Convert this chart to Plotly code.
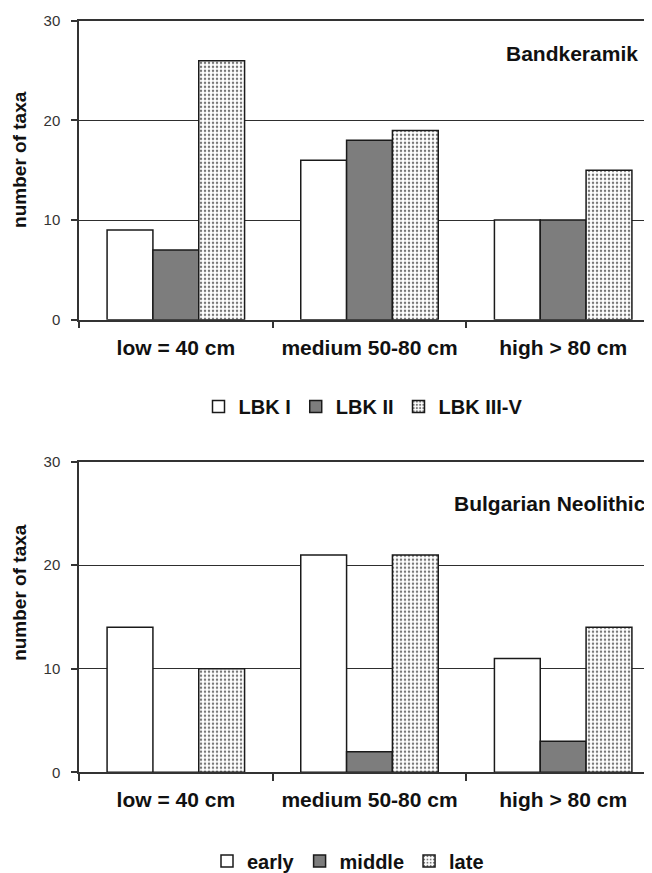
import plotly.graph_objs as go
from plotly.subplots import make_subplots

# categories on the x axis (both panels)
categories = ['low = 40 cm', 'medium 50-80 cm', 'high > 80 cm']

# top panel: Bandkeramik
lbk_names = ['LBK I', 'LBK II', 'LBK III-V']
lbk_1 = [9, 16, 10]
lbk_2 = [7, 18, 10]
lbk_3_5 = [26, 19, 15]

# bottom panel: Bulgarian Neolithic
bg_names = ['early', 'middle', 'late']
bg_early = [14, 21, 11]
bg_middle = [0, 2, 3]
bg_late = [10, 21, 14]

y_ticks = [0, 10, 20, 30]

FONT = 'Liberation Sans, Arial, sans-serif'
W, H = 652, 873
LEFT = 71


def px_x(x):
    # pixel -> paper x
    return (x - LEFT) / (W - LEFT)


def px_y(y):
    # pixel -> paper y
    return 1 - y / H


def bar_style(kind):
    line = dict(color='#1a1a1a', width=1.5)
    if kind == 0:
        return dict(color='white', line=line)
    if kind == 1:
        return dict(color='#7d7d7d', line=line)
    return dict(
        color='white',
        line=line,
        pattern=dict(
            shape='.',
            fillmode='replace',
            fgcolor='#777777',
            bgcolor='white',
            size=4,
            solidity=0.3
        )
    )


fig = make_subplots(rows=2, cols=1)

for i, (name, vals) in enumerate(zip(lbk_names, [lbk_1, lbk_2, lbk_3_5])):
    fig.add_trace(
        go.Bar(x=categories, y=vals, name=name, marker=bar_style(i),
               legend='legend'),
        row=1, col=1
    )

for i, (name, vals) in enumerate(zip(bg_names, [bg_early, bg_middle, bg_late])):
    fig.add_trace(
        go.Bar(x=categories, y=vals, name=name, marker=bar_style(i),
               legend='legend2'),
        row=2, col=1
    )

xaxis_style = dict(
    showline=True,
    # mirrored line gives the top rule at 30 (grid line there is dropped)
    mirror=True,
    linecolor='#333333',
    linewidth=1.5,
    ticks='outside',
    tickson='boundaries',
    ticklen=7,
    tickwidth=1.5,
    tickcolor='#333333',
    showgrid=False,
    tickfont=dict(family=FONT, size=21, color='#111111', weight='bold'),
    ticklabelstandoff=8,
    automargin=False,
    domain=[0, 1]
)
yaxis_style = dict(
    range=[0, 30],
    tickvals=y_ticks,
    showline=True,
    linecolor='#333333',
    linewidth=1.5,
    ticks='outside',
    ticklen=6,
    tickwidth=1.5,
    tickcolor='#333333',
    showgrid=True,
    gridcolor='#2e2e2e',
    gridwidth=1.3,
    zeroline=False,
    tickfont=dict(family=FONT, size=15, color='#333333'),
    ticklabelstandoff=8,
    automargin=False
)

fig.update_xaxes(**xaxis_style)
fig.update_yaxes(**yaxis_style)
fig.update_layout(
    yaxis=dict(domain=[px_y(316), px_y(13)]),
    yaxis2=dict(domain=[px_y(775), px_y(460)]),
)

legend_style = dict(
    orientation='h',
    xanchor='center',
    yanchor='middle',
    font=dict(family=FONT, size=20, color='#111111', weight='bold'),
    bgcolor='rgba(0,0,0,0)',
    itemclick=False,
    traceorder='normal'
)

fig.update_layout(
    width=W,
    height=H,
    margin=dict(l=LEFT, r=0, t=0, b=0),
    paper_bgcolor='white',
    plot_bgcolor='white',
    barmode='group',
    bargap=0.29,
    bargroupgap=0,
    showlegend=True,
    legend=dict(x=px_x(355), y=px_y(404), **legend_style),
    legend2=dict(x=px_x(340), y=px_y(865), **legend_style),
    font=dict(family=FONT)
)

# axis titles and panel labels
annotations = [
    dict(text='number of taxa', x=px_x(12), y=px_y(154), textangle=-90),
    dict(text='number of taxa', x=px_x(12), y=px_y(593), textangle=-90),
]
for a in annotations:
    a.update(xref='paper', yref='paper', showarrow=False,
             xanchor='center', yanchor='middle',
             font=dict(family=FONT, size=19, color='#111111', weight='bold'))
    fig.add_annotation(**a)

for text, xr, yc in [('Bandkeramik', 632, 46),
                     ('Bulgarian Neolithic', 640, 502)]:
    fig.add_annotation(
        text=text, x=px_x(xr), y=px_y(yc), xref='paper', yref='paper',
        xanchor='right', yanchor='middle', showarrow=False,
        font=dict(family=FONT, size=21, color='#111111', weight='bold')
    )

fig.write_html('out.html')
